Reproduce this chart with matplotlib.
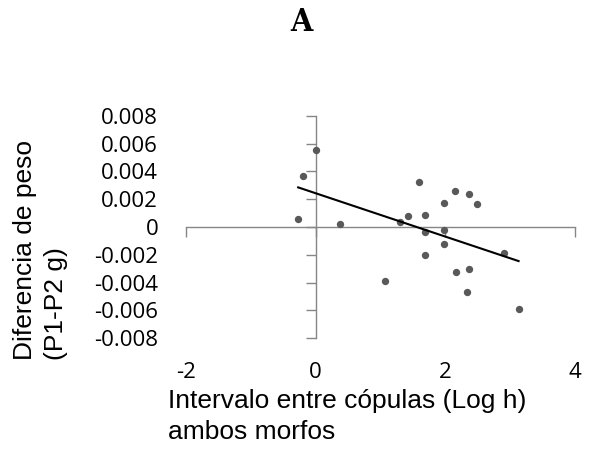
import matplotlib
matplotlib.use('Agg')
import matplotlib.pyplot as plt
import numpy as np

plt.rcParams['font.family'] = ['Open Sans', 'DejaVu Sans']

# datos
x = [0.0, -0.19, -0.27, 0.37, 1.07, 1.30, 1.42, 1.60, 1.68, 1.68, 1.69,
     1.98, 1.98, 1.98, 2.15, 2.17, 2.37, 2.37, 2.33, 2.49, 2.90, 3.13]
y = [0.0055, 0.0037, 0.00055, 0.00024, -0.0039, 0.00034, 0.00077, 0.0032,
     0.00084, -0.00038, -0.0020, 0.00175, -0.00024, -0.00125, 0.00257,
     -0.0032, 0.00235, -0.0030, -0.0047, 0.00163, -0.0019, -0.0059]
xticks = [-2, 0, 2, 4]
xticklabels = ['-2', '0', '2', '4']
yticks = [-0.008, -0.006, -0.004, -0.002, 0, 0.002, 0.004, 0.006, 0.008]
yticklabels = ['-0.008', '-0.006', '-0.004', '-0.002', '0',
               '0.002', '0.004', '0.006', '0.008']

fig = plt.figure(figsize=(5.89, 4.51), dpi=100)
pos = [0.3158, 0.2499, 0.6604, 0.4936]
ax = fig.add_axes(pos)
ax.set_xlim(-2, 4)
ax.set_ylim(-0.008, 0.008)

# etiquetas en los bordes (estilo Excel)
for s in ax.spines.values():
    s.set_visible(False)
ax.set_xticks(xticks, xticklabels)
ax.set_yticks(yticks, yticklabels)
ax.tick_params(length=0, labelsize=16)
ax.tick_params(axis='y', pad=20)
ax.tick_params(axis='x', pad=17)

# ejes grises cruzando en cero
ax2 = fig.add_axes(pos, sharex=ax, sharey=ax)
ax2.patch.set_visible(False)
ax2.spines['top'].set_visible(False)
ax2.spines['right'].set_visible(False)
ax2.spines['left'].set_position(('data', 0))
ax2.spines['bottom'].set_position(('data', 0))
for s in ['left', 'bottom']:
    ax2.spines[s].set_color('#868686')
    ax2.spines[s].set_linewidth(1.0)
ax2.tick_params(colors='#868686', length=7, width=1.0, direction='out',
                labelleft=False, labelbottom=False)

ax2.scatter(x, y, s=28, color='#595959', zorder=3, linewidths=0)

# línea de tendencia
m, b = np.polyfit(x, y, 1)
xl = np.array([min(x), max(x)])
ax2.plot(xl, m * xl + b, color='black', linewidth=1.5, zorder=4)

fig.text(0.511, 0.985, 'A', ha='center', va='top', fontsize=23,
         fontweight='bold', family='DejaVu Serif', fontstretch='condensed')
fig.text(0.285, 0.137, 'Intervalo entre cópulas (Log h)\nambos morfos',
         ha='left', va='top', fontsize=19, family='Liberation Sans',
         linespacing=1.35)
fig.text(0.022, 0.202, 'Diferencia de peso\n(P1-P2 g)', rotation=90,
         ha='left', va='bottom', fontsize=19, family='Liberation Sans',
         multialignment='left', linespacing=1.35)

fig.savefig('out.png', dpi=100)
